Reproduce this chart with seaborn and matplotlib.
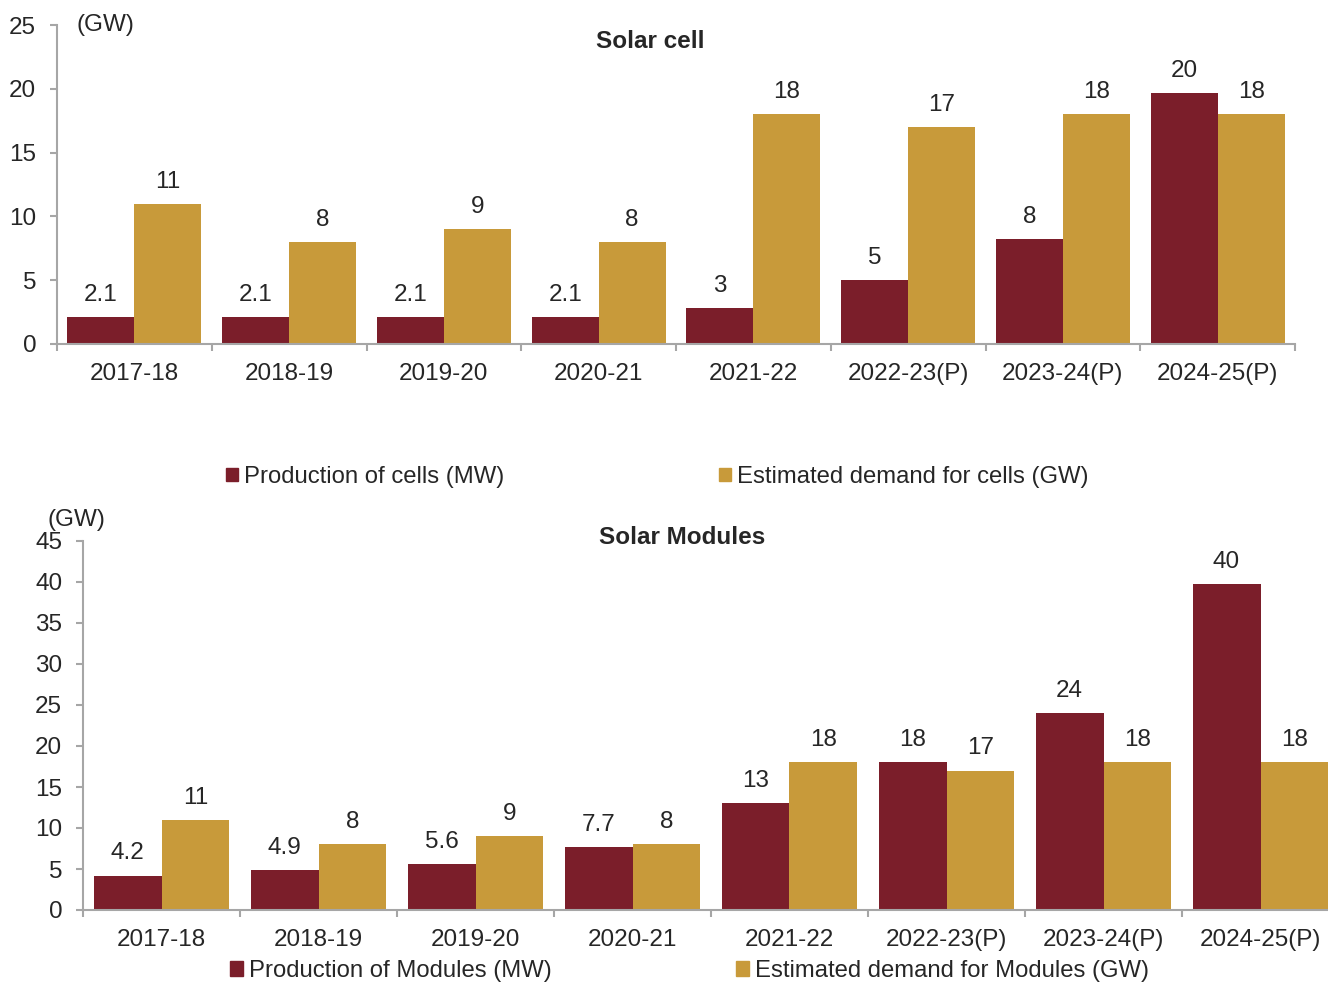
import numpy as np
import pandas as pd
import matplotlib
matplotlib.use("Agg")
import matplotlib.pyplot as plt
import seaborn as sns
from matplotlib.patches import Patch

# data
years = ["2017-18", "2018-19", "2019-20", "2020-21", "2021-22",
         "2022-23(P)", "2023-24(P)", "2024-25(P)"]

cell_production = [2.1, 2.1, 2.1, 2.1, 2.8, 5.0, 8.2, 19.7]
cell_production_labels = ["2.1", "2.1", "2.1", "2.1", "3", "5", "8", "20"]
cell_demand = [11, 8, 9, 8, 18, 17, 18, 18]
cell_demand_labels = ["11", "8", "9", "8", "18", "17", "18", "18"]

module_production = [4.2, 4.9, 5.6, 7.7, 13.0, 18.0, 24.0, 39.8]
module_production_labels = ["4.2", "4.9", "5.6", "7.7", "13", "18", "24", "40"]
module_demand = [11, 8, 9, 8, 18, 17, 18, 18]
module_demand_labels = ["11", "8", "9", "8", "18", "17", "18", "18"]

RED = "#7B1E2A"
GOLD = "#C89A3A"
GREY = "#A6A6A6"
W, H = 1328, 982
FS = 17.5
LEG_FS = 17.2

sns.set_theme(style="white")
plt.rcParams['font.family'] = ['Liberation Sans', 'DejaVu Sans']
plt.rcParams['font.size'] = FS


def draw_panel(ax, prod, prod_labels, demand, demand_labels, names, ymax):
	df = pd.DataFrame({
		"year": years * 2,
		"value": prod + demand,
		"series": [names[0]] * len(years) + [names[1]] * len(years),
	})
	sns.barplot(data=df, x="year", y="value", hue="series",
				palette=[RED, GOLD], width=0.865, gap=0, saturation=1,
				linewidth=0, errorbar=None, legend=False, ax=ax)
	ax.bar_label(ax.containers[0], labels=prod_labels, padding=8, fontsize=FS)
	ax.bar_label(ax.containers[1], labels=demand_labels, padding=8, fontsize=FS)

	ax.set_xlim(-0.5, len(years) - 0.5)
	ax.set_ylim(0, ymax)
	ax.set_yticks(np.arange(0, ymax + 1, 5))
	ax.set_xticks(np.arange(len(years)))
	ax.set_xticks(np.arange(len(years) + 1) - 0.5, minor=True)
	ax.set_xlabel("")
	ax.set_ylabel("")
	for s in ["top", "right"]:
		ax.spines[s].set_visible(False)
	for s in ["left", "bottom"]:
		ax.spines[s].set_color(GREY)
		ax.spines[s].set_linewidth(1.5)
	ax.tick_params(axis="x", which="major", length=0, pad=14, labelsize=FS)
	ax.tick_params(axis="x", which="minor", length=5, width=1.5, color=GREY,
				   direction="out", bottom=True)
	ax.tick_params(axis="y", length=5, width=1.5, color=GREY, direction="out",
				   left=True, pad=10, labelsize=FS)


fig = plt.figure(figsize=(W / 100, H / 100), dpi=100)

# top panel: solar cells
ax1 = fig.add_axes([57 / W, 1 - 344 / H, 1238 / W, (344 - 25) / H])
draw_panel(ax1, cell_production, cell_production_labels, cell_demand,
		   cell_demand_labels,
		   ["Production of cells (MW)", "Estimated demand for cells (GW)"], 25)
fig.text(650 / W, 1 - 42 / H, "Solar cell", ha="center", va="center",
		 fontsize=FS, fontweight="bold")
fig.text(77 / W, 1 - 25 / H, "(GW)", ha="left", va="center", fontsize=FS)
fig.legend(handles=[Patch(color=RED, label="Production of cells (MW)"),
					Patch(color=GOLD, label="Estimated demand for cells (GW)")],
		   loc="center left", bbox_to_anchor=(226 / W, 1 - 477 / H), ncol=2,
		   frameon=False, fontsize=LEG_FS, handlelength=0.5, handleheight=0.5,
		   handletextpad=0.25, columnspacing=9.0, borderpad=0, borderaxespad=0)

# bottom panel: solar modules
ax2 = fig.add_axes([83 / W, 1 - 910 / H, 1256 / W, (910 - 541) / H])
draw_panel(ax2, module_production, module_production_labels, module_demand,
		   module_demand_labels,
		   ["Production of Modules (MW)", "Estimated demand for Modules (GW)"], 45)
fig.text(682 / W, 1 - 537 / H, "Solar Modules", ha="center", va="center",
		 fontsize=FS, fontweight="bold")
fig.text(47 / W, 1 - 520 / H, "(GW)", ha="left", va="center", fontsize=FS)
fig.legend(handles=[Patch(color=RED, label="Production of Modules (MW)"),
					Patch(color=GOLD, label="Estimated demand for Modules (GW)")],
		   loc="center left", bbox_to_anchor=(230 / W, 1 - 971 / H), ncol=2,
		   frameon=False, fontsize=LEG_FS, handlelength=0.55, handleheight=0.55,
		   handletextpad=0.25, columnspacing=7.7, borderpad=0, borderaxespad=0)

plt.savefig("out.png", dpi=100)
plt.close()
